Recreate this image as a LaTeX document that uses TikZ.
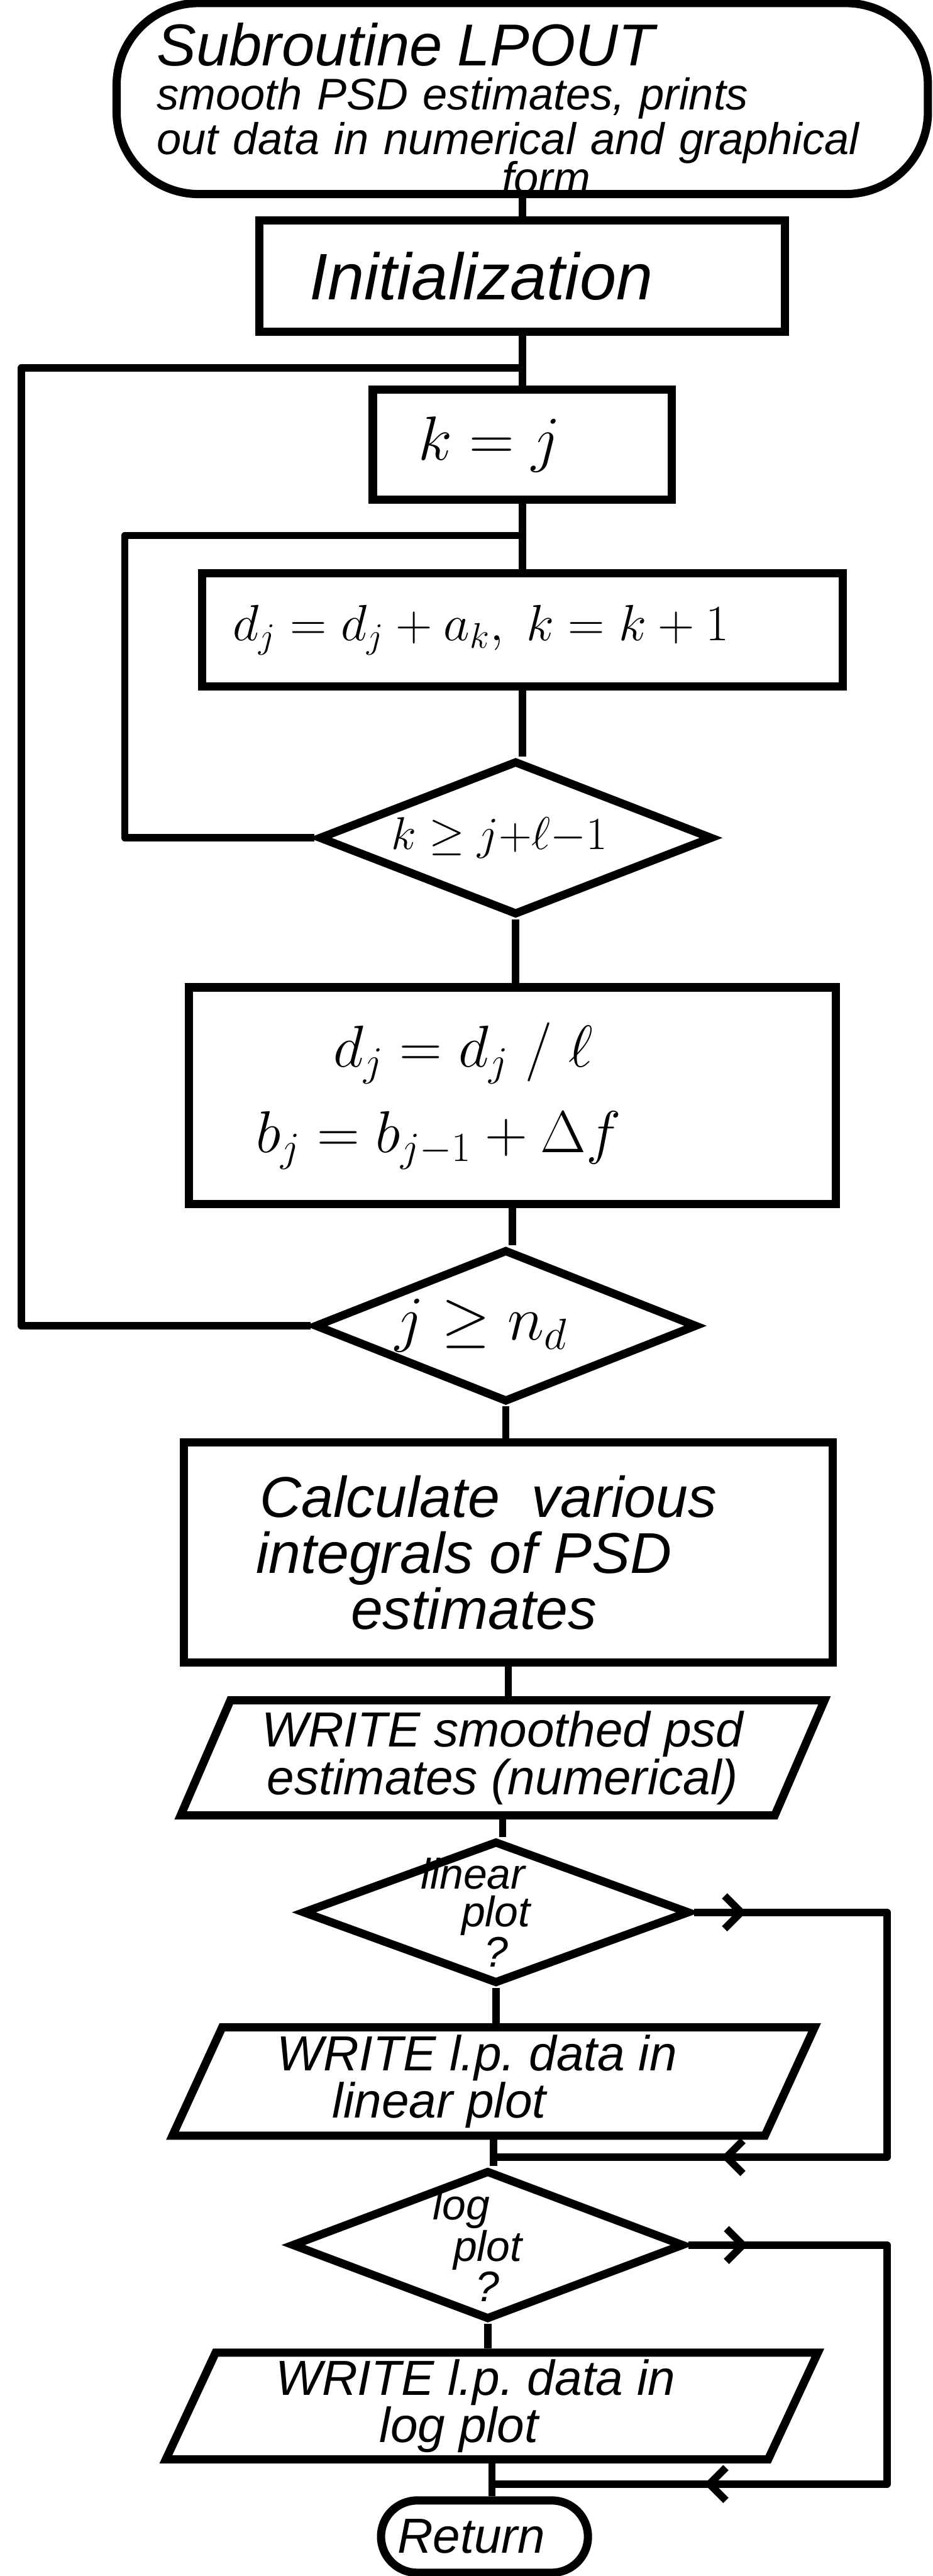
\documentclass[tikz,border=0pt]{standalone}
\usepackage{fix-cm}
\usepackage{fontspec}
\setmainfont{Liberation Sans}
\usetikzlibrary{shapes.geometric,arrows.meta,decorations.markings}

\tikzset{
  procbox/.style={draw, line width=5pt, inner sep=0pt, font=\itshape},
  termbox/.style={procbox, rounded corners=#1},
  decide/.style={draw, diamond, aspect=2.5, line width=5pt, inner sep=-20pt, font=\itshape},
  iobox/.style={draw, trapezium, trapezium left angle=62, trapezium right angle=118,
    trapezium stretches body, line width=5pt, inner sep=0pt, font=\itshape},
  flow/.style={line width=4.5pt, line join=round},
  loopback/.style 2 args={flow, postaction={decorate}, decoration={markings,
    mark=at position #1 with {\arrow{Straight Barb[length=10pt,width=20pt]}},
    mark=at position #2 with {\arrow{Straight Barb[length=10pt,width=20pt]}}}}
}

\begin{document}
\begin{tikzpicture}[x=1pt, y=-1pt]
    \useasboundingbox (0,0) rectangle (568,1568);

    % start of the subroutine
    \node[termbox=50pt, minimum width=494pt, minimum height=106pt, text width=445pt, align=left,
        font=\itshape\fontsize{27}{27}\selectfont] (start) at (318,60)
        {{\fontsize{36}{36}\selectfont\rule{0pt}{38pt}Subroutine LPOUT}\\
         smooth PSD estimates, prints\\
         out data in numerical and graphical\\[-3pt]
         \hspace*{210pt}form};

    \node[procbox, minimum width=320pt, minimum height=68pt,
        font=\itshape\fontsize{40}{40}\selectfont] (init) at (318,168) {Initialization\kern50pt};

    % smoothing loops
    \node[procbox, minimum width=182pt, minimum height=67pt,
        font=\fontsize{38}{38}\selectfont] (kj) at (318,270.5) {$k=j$\kern40pt};
    \node[procbox, minimum width=390pt, minimum height=69pt,
        font=\fontsize{31}{31}\selectfont] (accum) at (318,383.5) {$d_j = d_j + a_k,\ k=k+1$\kern50pt};
    \node[decide, minimum width=240pt, minimum height=94pt,
        font=\fontsize{28}{28}\selectfont] (test1) at (314,510) {$k \geq j{+}\ell{-}1$\kern20pt};
    \node[procbox, minimum width=394pt, minimum height=132pt, align=center,
        font=\fontsize{36}{52}\selectfont] (avg) at (312,667)
        {$d_j = d_j \;/\; \ell$\kern60pt\\ $b_j = b_{j-1} + \Delta f$\kern90pt};
    \node[decide, minimum width=233pt, minimum height=93pt,
        font=\fontsize{38}{38}\selectfont] (test2) at (308,807) {$j \geq n_d$\kern30pt};

    % output part
    \node[procbox, minimum width=395pt, minimum height=134pt, align=center,
        font=\itshape\fontsize{35}{34}\selectfont] (calc) at (309.5,945)
        {Calculate \ various\kern24pt\\ integrals of PSD\kern54pt\\ estimates\kern42pt};
    \node[iobox, minimum width=392pt, minimum height=70pt, align=center,
        font=\itshape\fontsize{30}{27}\selectfont] (write1) at (306,1070)
        {WRITE smoothed psd\\ estimates (numerical)};
    \node[decide, minimum width=236pt, minimum height=87pt, align=center,
        font=\itshape\fontsize{26}{23}\selectfont] (test3) at (302,1164) {linear\kern28pt\\ plot\\ ?};
    \node[iobox, minimum width=391pt, minimum height=66pt, align=center,
        font=\itshape\fontsize{30}{29}\selectfont] (write2) at (300.5,1267)
        {WRITE l.p.\ data in\kern20pt\\ linear plot\kern66pt};
    \node[decide, minimum width=239pt, minimum height=91pt, align=center,
        font=\itshape\fontsize{26}{23}\selectfont] (test4) at (297,1366.5) {log\kern32pt\\ plot\\ ?};
    \node[iobox, minimum width=397pt, minimum height=65pt, align=center,
        font=\itshape\fontsize{30}{29}\selectfont] (write3) at (299.5,1464.5)
        {WRITE l.p.\ data in\kern20pt\\ log plot\kern40pt};
    \node[termbox=22pt, minimum width=126pt, minimum height=44pt,
        font=\itshape\fontsize{30}{30}\selectfont] (ret) at (295,1544) {Return\kern16pt};

    % joins
    \coordinate (outerJoin) at (init.south |- 0,224);
    \coordinate (innerJoin) at (kj.south |- 0,326);
    \coordinate (mergeLin) at (write2.south |- 0,1313);
    \coordinate (mergeLog) at (write3.south |- 0,1512);
    \coordinate (outerX) at (13,0);
    \coordinate (innerX) at (76,0);
    \coordinate (rightX) at (540,0);

    % main line
    \foreach \a/\b in {start/init, init/kj, kj/accum, accum/test1, test1/avg, avg/test2,
        test2/calc, calc/write1, write1/test3, test3/write2, write2/test4, test4/write3, write3/ret}
        \draw[flow] (\a.south) -- (\a.south |- \b.north);

    % loops back
    \draw[flow] (test2.west) -| (outerX |- outerJoin) -- (outerJoin);
    \draw[flow] (test1.west) -| (innerX |- innerJoin) -- (innerJoin);

    % plot branches
    \draw[loopback={0.063}{0.726}] (test3.east) -| (rightX |- mergeLin) -- (mergeLin);
    \draw[loopback={0.072}{0.745}] (test4.east) -| (rightX |- mergeLog) -- (mergeLog);

\end{tikzpicture}
\end{document}
